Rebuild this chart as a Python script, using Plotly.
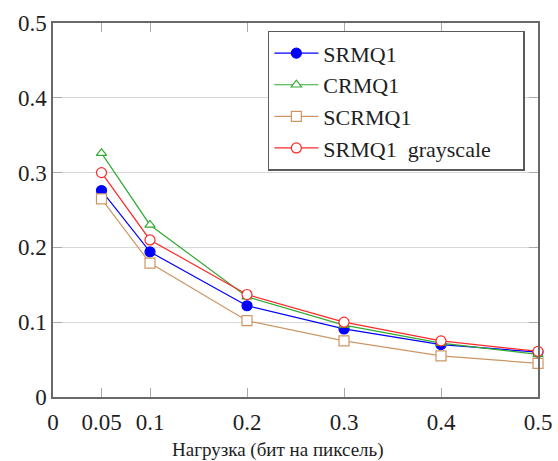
import plotly.graph_objects as go

# Payload values (bits per pixel)
payload = [0.05, 0.1, 0.2, 0.3, 0.4, 0.5]

srmq1 = [0.276, 0.194, 0.122, 0.091, 0.070, 0.060]
crmq1 = [0.326, 0.230, 0.134, 0.096, 0.072, 0.057]
scrmq1 = [0.265, 0.179, 0.102, 0.075, 0.055, 0.045]
srmq1_gray = [0.300, 0.210, 0.137, 0.100, 0.075, 0.061]

x_ticks = [0, 0.05, 0.1, 0.2, 0.3, 0.4, 0.5]
x_tick_text = ["0", "0.05", "0.1", "0.2", "0.3", "0.4", "0.5"]
y_ticks = [0, 0.1, 0.2, 0.3, 0.4, 0.5]
y_tick_text = ["0", "0.1", "0.2", "0.3", "0.4", "0.5"]

x_title = "Нагрузка (бит на пиксель)"

FONT = "Liberation Serif"
NBSP = "\u00a0"

series = [
    ("SRMQ1", srmq1, "rgb(0,0,255)", "circle", "rgb(0,0,255)"),
    ("CRMQ1", crmq1, "rgb(50,170,50)", "triangle-up", "white"),
    ("SCRMQ1", scrmq1, "rgb(205,150,100)", "square", "white"),
    ("SRMQ1" + NBSP * 2 + "grayscale", srmq1_gray, "rgb(255,40,40)", "circle", "white"),
]

fig = go.Figure()
for i, (name, ys, color, symbol, fill) in enumerate(series):
    # the last entry carries some trailing padding so the legend box is wider
    label = name + (NBSP * 5 if i == len(series) - 1 else "")
    fig.add_trace(go.Scatter(
        x=payload, y=ys, name=label, mode="lines+markers",
        line=dict(color=color, width=1.2),
        marker=dict(symbol=symbol, size=10 if symbol != "triangle-up" else 9,
                    color=fill, line=dict(color=color, width=1.2)),
        cliponaxis=False,
    ))

axis_common = dict(
    showline=True, linecolor="rgb(105,105,105)", linewidth=1.5, mirror="allticks",
    ticks="inside", ticklen=9, tickcolor="rgb(170,170,170)", tickwidth=1,
    tickfont=dict(family=FONT, size=23, color="rgb(30,30,30)"),
    zeroline=False, automargin=False,
)

fig.update_layout(
    width=558, height=461,
    margin=dict(l=53, r=20, t=23, b=64),
    paper_bgcolor="white", plot_bgcolor="white",
    font=dict(family=FONT, color="rgb(30,30,30)"),
    showlegend=True,
    legend=dict(
        x=0.443, y=0.979, xanchor="left", yanchor="top",
        bgcolor="white", bordercolor="rgb(90,90,90)", borderwidth=1.5,
        font=dict(family=FONT, size=22, color="rgb(30,30,30)"),
        tracegroupgap=0, itemwidth=44,
    ),
    xaxis=dict(
        range=[0, 0.5], tickvals=x_ticks, ticktext=x_tick_text,
        showgrid=False, ticklabelstandoff=4,
        **axis_common,
    ),
    yaxis=dict(
        range=[0, 0.5], tickvals=y_ticks, ticktext=y_tick_text,
        showgrid=True, gridcolor="rgb(215,215,215)", gridwidth=1.2,
        **axis_common,
    ),
    annotations=[dict(
        text=x_title, xref="paper", yref="paper", x=0.464, y=-0.142,
        xanchor="center", yanchor="middle", showarrow=False,
        font=dict(family=FONT, size=19, color="rgb(30,30,30)"),
    )],
)

fig.write_html("out.html")
